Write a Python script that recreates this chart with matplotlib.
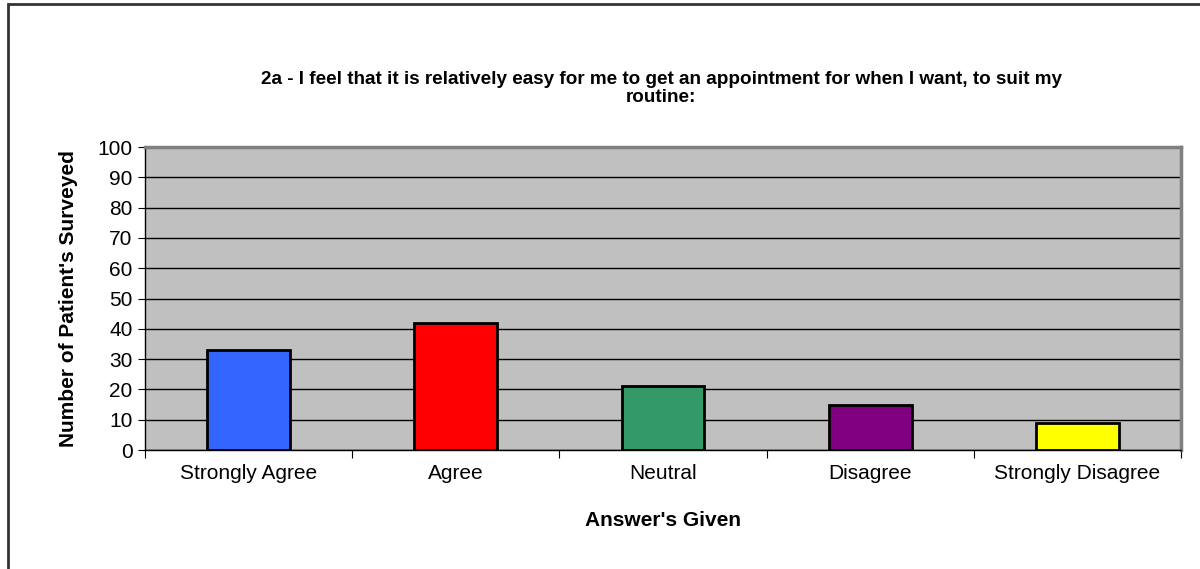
import numpy as np
import matplotlib.pyplot as plt
from matplotlib.patches import Rectangle

answers = ["Strongly Agree", "Agree", "Neutral", "Disagree", "Strongly Disagree"]
counts = [33, 42, 21, 15, 9]
bar_colours = ["#3366FF", "#FF0000", "#339966", "#800080", "#FFFF00"]

plt.rcParams['font.family'] = ['Liberation Sans', 'DejaVu Sans']

fig = plt.figure(figsize=(12, 5.69), dpi=100)
ax = fig.add_axes([0.1208, 0.2091, 0.8633, 0.5325])
ax.set_facecolor("#C0C0C0")

x = np.arange(len(answers))
ax.bar(x, counts, width=0.4, color=bar_colours, edgecolor="black", linewidth=2, zorder=3)

ax.set_xlim(-0.5, len(answers) - 0.5)
ax.set_ylim(0, 100)
ax.set_yticks(range(0, 101, 10))
ax.yaxis.grid(True, color="black", linewidth=1)
ax.set_axisbelow(True)

# category labels sit between boundary ticks
ax.set_xticks(np.arange(-0.5, len(answers), 1.0))
ax.set_xticklabels([])
ax.set_xticks(x, minor=True)
ax.set_xticklabels(answers, minor=True)
ax.tick_params(axis="x", which="minor", length=0, labelsize=15, pad=10)
ax.tick_params(axis="x", which="major", length=6, color="black")
ax.tick_params(axis="y", length=5, labelsize=15, pad=4)

for side in ["top", "right"]:
    ax.spines[side].set_color("#808080")
    ax.spines[side].set_linewidth(2.5)
for side in ["left", "bottom"]:
    ax.spines[side].set_color("black")
    ax.spines[side].set_linewidth(1)

ax.set_ylabel("Number of Patient's Surveyed", fontsize=15, fontweight="bold", labelpad=14)
ax.set_xlabel("Answer's Given", fontsize=15, fontweight="bold", labelpad=20)

fig.text(0.551, 0.845, "2a - I feel that it is relatively easy for me to get an appointment for when I want, to suit my\nroutine:",
         ha="center", va="center", fontsize=13.6, fontweight="bold", linespacing=1.1)

# outer chart border
fig.patches.append(Rectangle((8 / 1200, -0.1), 1.2, 1.1 - 4 / 569, transform=fig.transFigure,
                             fill=False, edgecolor="#333333", linewidth=2))

fig.savefig("out.png", dpi=100)
